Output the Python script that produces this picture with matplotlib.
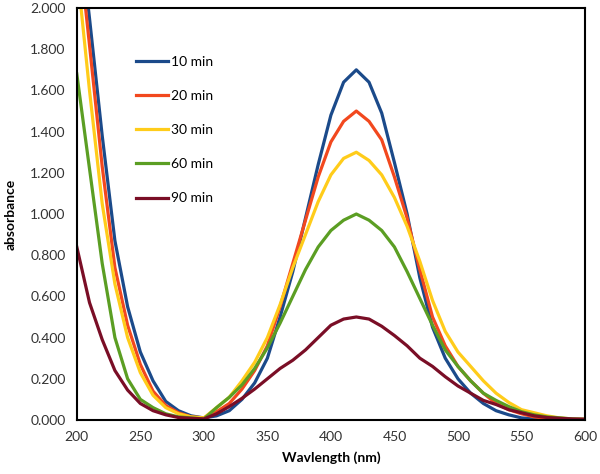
import numpy as np
import matplotlib
matplotlib.use("Agg")
import matplotlib.pyplot as plt

plt.rcParams['font.family'] = ['Lato', 'DejaVu Sans']

# wavelengths, every 10 nm
wavelength = np.arange(200, 601, 10)

abs_10 = [2.50, 1.95, 1.38, 0.87, 0.55, 0.33, 0.19, 0.09, 0.045, 0.02,
          0.01, 0.02, 0.045, 0.10, 0.18, 0.30, 0.50, 0.72, 0.98, 1.24,
          1.48, 1.64, 1.70, 1.64, 1.49, 1.25, 1.00, 0.69, 0.45, 0.30,
          0.20, 0.13, 0.08, 0.045, 0.025, 0.01, 0.005, 0.003, 0.002, 0.001,
          0.001]
abs_20 = [2.40, 1.82, 1.23, 0.74, 0.46, 0.27, 0.14, 0.07, 0.035, 0.015,
          0.01, 0.04, 0.08, 0.15, 0.24, 0.36, 0.55, 0.76, 0.97, 1.18,
          1.35, 1.45, 1.50, 1.45, 1.36, 1.18, 0.98, 0.73, 0.50, 0.36,
          0.26, 0.19, 0.13, 0.08, 0.05, 0.03, 0.015, 0.008, 0.004, 0.002,
          0.001]
abs_30 = [2.20, 1.60, 1.05, 0.66, 0.40, 0.23, 0.12, 0.06, 0.03, 0.015,
          0.01, 0.06, 0.11, 0.19, 0.28, 0.40, 0.56, 0.74, 0.90, 1.06,
          1.19, 1.27, 1.30, 1.26, 1.19, 1.08, 0.94, 0.77, 0.58, 0.43,
          0.33, 0.26, 0.19, 0.13, 0.085, 0.05, 0.035, 0.02, 0.01, 0.005,
          0.003]
abs_60 = [1.68, 1.22, 0.76, 0.40, 0.20, 0.10, 0.06, 0.03, 0.015, 0.01,
          0.005, 0.06, 0.11, 0.17, 0.25, 0.35, 0.47, 0.60, 0.73, 0.84,
          0.92, 0.97, 1.00, 0.97, 0.92, 0.84, 0.72, 0.59, 0.46, 0.34,
          0.26, 0.19, 0.13, 0.095, 0.065, 0.04, 0.025, 0.015, 0.01, 0.005,
          0.003]
abs_90 = [0.84, 0.57, 0.39, 0.24, 0.145, 0.08, 0.045, 0.025, 0.012, 0.008,
          0.005, 0.03, 0.065, 0.105, 0.15, 0.20, 0.25, 0.29, 0.34, 0.40,
          0.46, 0.49, 0.50, 0.49, 0.455, 0.41, 0.36, 0.30, 0.26, 0.21,
          0.165, 0.13, 0.095, 0.075, 0.05, 0.035, 0.02, 0.012, 0.008, 0.005,
          0.004]

labels = ['10 min', '20 min', '30 min', '60 min', '90 min']
colors = ['#1B4A8A', '#F2481E', '#FFCC1A', '#5B9E23', '#7A0E26']
series = [abs_10, abs_20, abs_30, abs_60, abs_90]

fig = plt.figure(figsize=(6, 4.74), dpi=100)
ax = fig.add_axes([0.128, 0.114, 0.847, 0.869])

for y, lab, c in zip(series, labels, colors):
    ax.plot(wavelength, y, color=c, lw=2.3, label=lab)

ax.set_xlim(200, 600)
ax.set_ylim(0, 2.0)
ax.set_xticks(np.arange(200, 601, 50))
ax.set_yticks(np.arange(0, 2.01, 0.2))
ax.set_yticklabels([f'{v:.3f}' for v in np.arange(0, 2.01, 0.2)])
ax.tick_params(length=0, labelsize=10, colors='#333333', pad=8)
for s in ax.spines.values():
    s.set_linewidth(1.5)
    s.set_color('black')

ax.set_xlabel('Wavlength (nm)', fontsize=10, fontweight='bold', labelpad=6)
ax.set_ylabel('absorbance', fontsize=10, fontweight='bold', labelpad=10)

ax.legend(loc='upper left', bbox_to_anchor=(0.092, 0.915), frameon=False,
          fontsize=10, handlelength=2.3, handletextpad=0.2, labelspacing=1.6)

fig.savefig('out.png', dpi=100)
